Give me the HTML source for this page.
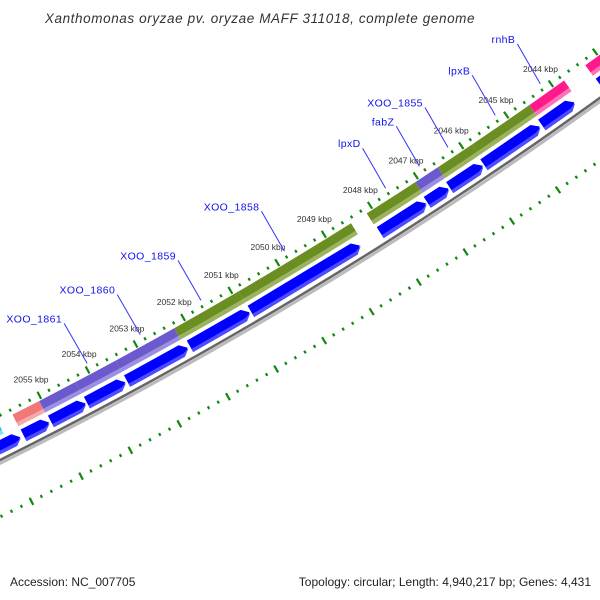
<!DOCTYPE html>
<html><head><meta charset="utf-8"><style>
body{margin:0;background:#fff;}
svg{display:block;font-family:"Liberation Sans",sans-serif;}
</style></head><body>
<svg id="map" width="600" height="600" viewBox="0 0 600 600" xmlns="http://www.w3.org/2000/svg">
<text x="260" y="23" text-anchor="middle" font-size="13.5" font-style="italic" fill="#333" letter-spacing="0.6">Xanthomonas oryzae pv. oryzae MAFF 311018, complete genome</text>
<g id="layer"></g>
<text x="10" y="586" font-size="12" fill="#222">Accession: NC_007705</text>
<text x="591" y="586" text-anchor="end" font-size="12" fill="#222">Topology: circular; Length: 4,940,217 bp; Genes: 4,431</text>
</svg>
<script>
// gene feature band (outer coloured ring): start kbp, end kbp, color
const geneStarts = [2042.0, 2043.77, 2044.55, 2045.82, 2046.58, 2047.07, 2048.47, 2050.88, 2052.24, 2053.47, 2054.30, 2055.05, 2055.9];
const geneEnds   = [2043.29, 2044.55, 2045.82, 2046.58, 2047.07, 2048.13, 2050.88, 2052.24, 2053.47, 2054.30, 2055.05, 2055.6, 2058.0];
const geneColors = ["#ff1a8c","#ff1a8c","#6b8e23","#6b8e23","#6a5acd","#6b8e23","#6b8e23","#6b8e23","#6a5acd","#6a5acd","#6a5acd","#f07878","#1ec8f0"];
const geneLight  = ["#ff70b8","#ff70b8","#9bb25e","#9bb25e","#9a8fe0","#9bb25e","#9bb25e","#9bb25e","#9a8fe0","#9a8fe0","#9a8fe0","#f6a8a8","#80e0fa"];
// CDS arrows (inner blue ring): start kbp (tail), end kbp (tip)
const cdsTails = [2043.28, 2044.57, 2045.85, 2046.6, 2047.09, 2048.11, 2050.87, 2052.15, 2053.46, 2054.29, 2055.03, 2055.59, 2056.5];
const cdsTips  = [2042.0, 2043.85, 2044.62, 2045.88, 2046.63, 2047.12, 2048.55, 2050.9, 2052.2, 2053.5, 2054.32, 2055.07, 2055.66];
// axis ticks
const tickKbp = [2044, 2045, 2046, 2047, 2048, 2049, 2050, 2051, 2052, 2053, 2054, 2055];
const tickLabels = ["2044 kbp","2045 kbp","2046 kbp","2047 kbp","2048 kbp","2049 kbp","2050 kbp","2051 kbp","2052 kbp","2053 kbp","2054 kbp","2055 kbp"];
// gene labels
const labelNames = ["rnhB","lpxB","XOO_1855","fabZ","lpxD","XOO_1858","XOO_1859","XOO_1860","XOO_1861"];
const labelKbp = [2044.16, 2045.17, 2046.22, 2046.85, 2047.59, 2049.78, 2051.56, 2052.84, 2053.95];

const NS = "http://www.w3.org/2000/svg";
const layer = document.getElementById("layer");
const CX = -1915, CY = -3390, R0 = 4300;
const A0 = 54.63, DEG_PER_KBP = 0.733, K0 = 2044;
function ang(k){ return (A0 + (k - K0) * DEG_PER_KBP) * Math.PI / 180; }
function P(k, off){ const a = ang(k), r = R0 + off; return [CX + r*Math.cos(a), CY + r*Math.sin(a)]; }
function f(p){ return p[0].toFixed(2)+","+p[1].toFixed(2); }
function mk(tag, attrs){ const e = document.createElementNS(NS, tag); for (const k in attrs) e.setAttribute(k, attrs[k]); layer.appendChild(e); return e; }
function arcBand(k1, k2, o1, o2){
  // k1<k2 ; offsets o1 (inner toward center) o2
  const a = P(k1,o1), b = P(k2,o1), c = P(k2,o2), d = P(k1,o2);
  return "M"+f(a)+" A"+(R0+o1)+","+(R0+o1)+" 0 0 1 "+f(b)+" L"+f(c)+" A"+(R0+o2)+","+(R0+o2)+" 0 0 0 "+f(d)+" Z";
}

// backbone shadow and line
let e;
e = mk("path", {d: "M"+f(P(2040,3))+" A"+(R0+3)+","+(R0+3)+" 0 0 1 "+f(P(2060,3)), fill:"none", stroke:"#bbb", "stroke-width":3});


e = mk("path", {d: "M"+f(P(2040,0))+" A"+R0+","+R0+" 0 0 1 "+f(P(2060,0)), fill:"none", stroke:"#666", "stroke-width":2.5});



// tick rings
function ring(off, name){
  for (let i = 0; i <= 100; i++){
    const k = 2040 + i*0.2;
    const major = (i % 5 === 0);
    const h = major ? 4 : 1.5;
    const p1 = P(k, off - h), p2 = P(k, off + h);
    const t = mk("line", {x1:p1[0], y1:p1[1], x2:p2[0], y2:p2[1], stroke:"#118811", "stroke-width": 2.2});
    
    
  }
}
ring(-40, "outer-ruler");
ring(51, "inner-ruler");

// tick labels
for (let i = 0; i < tickKbp.length; i++){
  const p = P(tickKbp[i], -58);
  const t = mk("text", {x:p[0], y:p[1]+3, "text-anchor":"middle", "font-size":"8.5", fill:"#333"});
  t.textContent = tickLabels[i];
  
  
}

// gene band
for (let i = 0; i < geneStarts.length; i++){
  const k1 = Math.min(geneStarts[i], geneEnds[i]), k2 = Math.max(geneStarts[i], geneEnds[i]);
  const g1 = mk("path", {d: arcBand(k1, k2, -35, -26), fill: geneColors[i]});
  
  
  const g2 = mk("path", {d: arcBand(k1, k2, -26, -22), fill: geneLight[i]});
  
  
}

// CDS arrows
for (let i = 0; i < cdsTails.length; i++){
  const tail = cdsTails[i], tip = cdsTips[i];
  const head = Math.min(0.12, (tail - tip) * 0.5);
  const hk = tip + head;
  const o1 = -18, o2 = -5, om = -11.5;
  const d = "M"+f(P(tail,o1))+" L"+f(P(hk,o1))+" L"+f(P(tip,om))+" L"+f(P(hk,o2))+" L"+f(P(tail,o2))+" Z";
  const a1 = mk("path", {d: d, fill: "#0000ff"});
  
  
  const d2 = "M"+f(P(tail,-8.5))+" L"+f(P(hk,-8.5))+" L"+f(P(tip-0.01,om+1))+" L"+f(P(hk,o2))+" L"+f(P(tail,o2))+" Z";
  const a2 = mk("path", {d: d2, fill: "#4d4dff"});
  
  
}

// gene labels with leader lines
for (let i = 0; i < labelNames.length; i++){
  const end = P(labelKbp[i], -46);
  const sx = end[0] - 23, sy = end[1] - 40;
  const l = mk("line", {x1:sx, y1:sy, x2:end[0], y2:end[1], stroke:"#3333ff", "stroke-width":1});
  
  
  const t = mk("text", {x: sx - 2, y: sy - 1, "text-anchor":"end", "font-size":"10.5", fill:"#1010ee", "letter-spacing":"0.4"});
  t.textContent = labelNames[i];
  
  
}
</script>
</body></html>
